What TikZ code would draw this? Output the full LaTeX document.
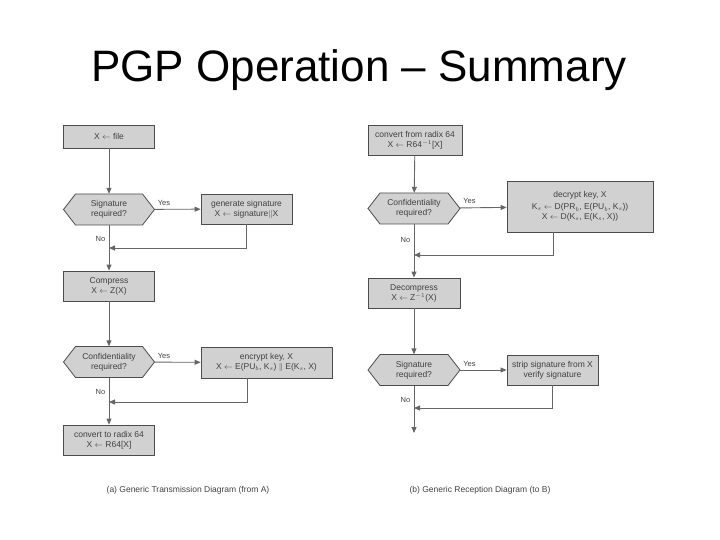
\documentclass[tikz,border=0pt]{standalone}
\usepackage{fontspec}
\setmainfont{Liberation Sans}
\usetikzlibrary{arrows.meta}
\newcommand{\hexa}[6]{%
  \fill[black!18,draw=black!70,line width=0.8pt] (#2-#4/2,#3) -- (#2-#4/2+12,#3-#5/2) -- (#2+#4/2-12,#3-#5/2) -- (#2+#4/2,#3) -- (#2+#4/2-12,#3+#5/2) -- (#2-#4/2+12,#3+#5/2) -- cycle;
  \node[dtext,minimum width=#4,minimum height=#5] (#1) at (#2,#3) {#6};}
\begin{document}
\begin{tikzpicture}[x=1pt,y=-1pt,
  box/.style={draw=black!70,fill=black!18,line width=0.8pt,inner sep=1pt,font=\fontsize{8.5}{10}\selectfont,align=center,text=black!75},
  dtext/.style={inner sep=0pt,font=\fontsize{8.5}{10}\selectfont,align=center,text=black!75},
  conn/.style={draw=black!60,line width=0.9pt,-{Triangle[length=6pt,width=5pt]}},
  lbl/.style={font=\fontsize{7.5}{8}\selectfont,text=black!75}]
\useasboundingbox (0,0) rectangle (720,540);
\node[font=\fontsize{44}{48}\selectfont] (title) at (359,70) {PGP Operation – Summary};
% left
\node[box,minimum width=91,minimum height=23] (a1) at (109,136.5) {X $\leftarrow$ file};
\hexa{a2}{109}{209.5}{91}{31}{Signature\\required?}
\node[box,minimum width=91,minimum height=30] (a3) at (246.5,209) {generate signature\\X $\leftarrow$ signature$\|$X};
\node[box,minimum width=91,minimum height=30] (a4) at (109,286) {Compress\\X $\leftarrow$ Z(X)};
\hexa{a5}{109}{362}{91}{31}{Confidentiality\\required?}
\node[box,minimum width=131,minimum height=31] (a6) at (266.5,362.5) {encrypt key, X\\X $\leftarrow$ E(PU$_b$, K$_s$) $\|$ E(K$_s$, X)};
\node[box,minimum width=91,minimum height=30] (a7) at (109,440) {convert to radix 64\\X $\leftarrow$ R64[X]};
\coordinate (j1) at (109,248); \coordinate (j2) at (109,402);
\draw[conn] (a1) -- (a2);
\draw[conn] (a2) -- node[lbl,above,pos=0.2]{Yes} (a3);
\draw[conn] (a3.south) |- (j1);
\draw[conn] (a2) -- node[lbl,left,pos=0.3]{No} (a4);
\draw[conn] (a4) -- (a5);
\draw[conn] (a5) -- node[lbl,above,pos=0.2]{Yes} (a6);
\draw[conn] ([xshift=-19.5pt]a6.south) |- (j2);
\draw[conn] (a5) -- node[lbl,left,pos=0.3]{No} (a7);
\node[font=\fontsize{8.5}{9}\selectfont,text=black!75] (capa) at (188,490) {(a) Generic Transmission Diagram (from A)};
% right
\node[box,minimum width=94,minimum height=30] (b1) at (415,140) {convert from radix 64\\X $\leftarrow$ R64$^{-1}$[X]};
\hexa{b2}{414}{208.5}{92}{31}{Confidentiality\\required?}
\node[box,minimum width=146,minimum height=51] (b3) at (580,206.5) {decrypt key, X\\[2pt]K$_s$ $\leftarrow$ D(PR$_b$, E(PU$_b$, K$_s$))\\X $\leftarrow$ D(K$_s$, E(K$_s$, X))};
\node[box,minimum width=92,minimum height=30] (b4) at (414,293) {Decompress\\X $\leftarrow$ Z$^{-1}$(X)};
\hexa{b5}{414}{370}{92}{31}{Signature\\required?}
\node[box,minimum width=91,minimum height=30] (b6) at (552.5,370) {strip signature from X\\verify signature};
\coordinate (k1) at (414,255); \coordinate (k2) at (414,408); \coordinate (bend) at (414,433);
\draw[conn] (b1) -- (b2);
\draw[conn] (b2) -- node[lbl,above,pos=0.2]{Yes} (b3);
\draw[conn] ([xshift=-27pt]b3.south) |- (k1);
\draw[conn] (b2) -- node[lbl,left,pos=0.3]{No} (b4);
\draw[conn] (b4) -- (b5);
\draw[conn] (b5) -- node[lbl,above,pos=0.2]{Yes} (b6);
\draw[conn] (b6.south) |- (k2);
\draw[conn] (b5) -- node[lbl,left,pos=0.3]{No} (bend);
\node[font=\fontsize{8.5}{9}\selectfont,text=black!75] (capb) at (480,490) {(b) Generic Reception Diagram (to B)};
\end{tikzpicture}
\end{document}
